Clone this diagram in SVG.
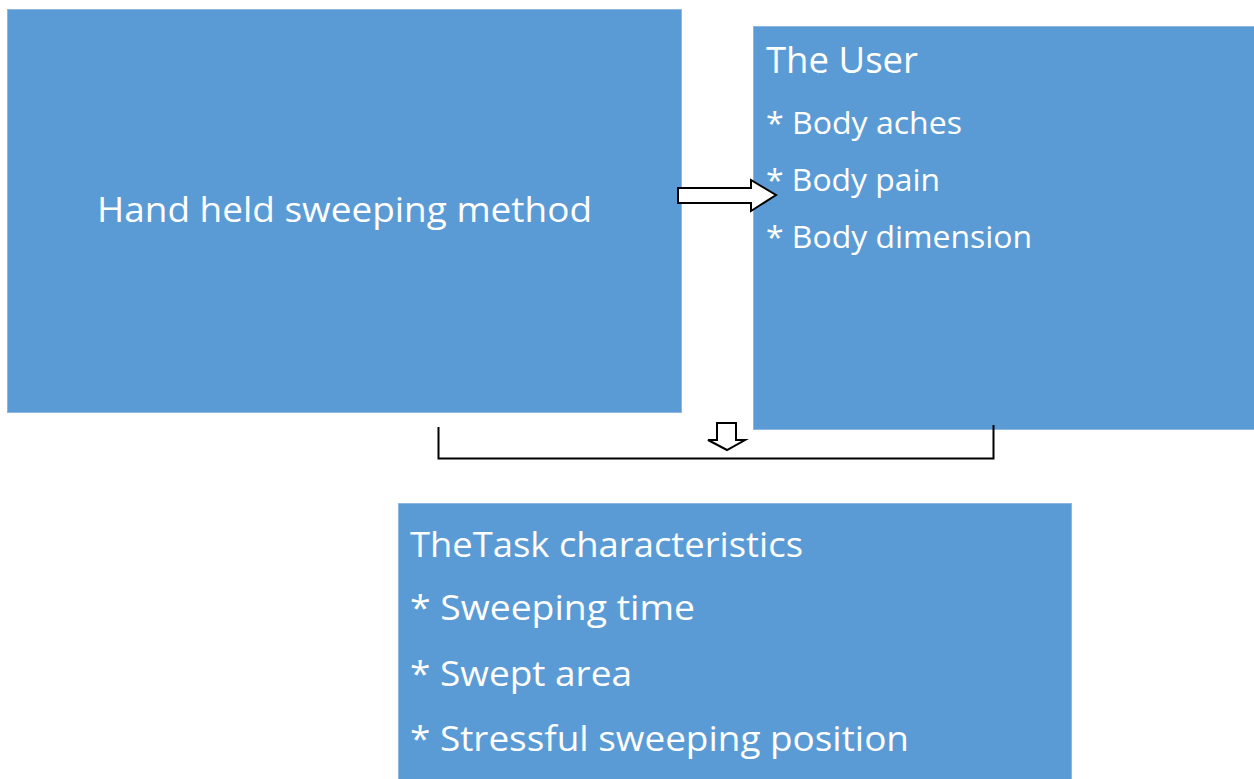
<svg xmlns="http://www.w3.org/2000/svg" width="1254" height="779" viewBox="0 0 1254 779">
<style>
.box{fill:#5B9BD5;stroke:#8DB6E0;stroke-width:1}
.t{fill:#fff;font-family:"Open Sans","Liberation Sans",sans-serif}
.arrow{fill:#fff;stroke:#000;stroke-width:2}
</style>
<rect width="1254" height="779" fill="#fff"/>
<g id="method">
<rect class="box" x="7.5" y="9.5" width="674" height="403"/>
<text class="t" x="97" y="222" font-size="35" textLength="495" lengthAdjust="spacingAndGlyphs">Hand held sweeping method</text>
</g>
<g id="user">
<rect class="box" x="753.5" y="26.5" width="502" height="403"/>
<text class="t" x="766" y="73" font-size="36" textLength="152" lengthAdjust="spacingAndGlyphs">The User</text>
<text class="t" x="766" y="134" font-size="31" textLength="196" lengthAdjust="spacingAndGlyphs">* Body aches</text>
<text class="t" x="766" y="191" font-size="31" textLength="174" lengthAdjust="spacingAndGlyphs">* Body pain</text>
<text class="t" x="766" y="248" font-size="31" textLength="266" lengthAdjust="spacingAndGlyphs">* Body dimension</text>
</g>
<g id="task">
<rect class="box" x="398.5" y="503.5" width="673" height="280"/>
<text class="t" x="410" y="557" font-size="35" textLength="393" lengthAdjust="spacingAndGlyphs">TheTask characteristics</text>
<text class="t" x="410" y="620" font-size="35" textLength="285" lengthAdjust="spacingAndGlyphs">* Sweeping time</text>
<text class="t" x="410" y="686" font-size="35" textLength="222" lengthAdjust="spacingAndGlyphs">* Swept area</text>
<text class="t" x="410" y="751" font-size="35" textLength="499" lengthAdjust="spacingAndGlyphs">* Stressful sweeping position</text>
</g>
<g id="connectors">
<polygon class="arrow" points="678,188 751,188 751,180 776,195 751,211 751,203 678,203"/>
<polyline points="438.5,427 438.5,458.5 993.5,458.5 993.5,425" fill="none" stroke="#000" stroke-width="2"/>
<polygon class="arrow" points="717,423 736,423 736,440 745,440 727,450 708,440 717,440"/>
</g>
</svg>
